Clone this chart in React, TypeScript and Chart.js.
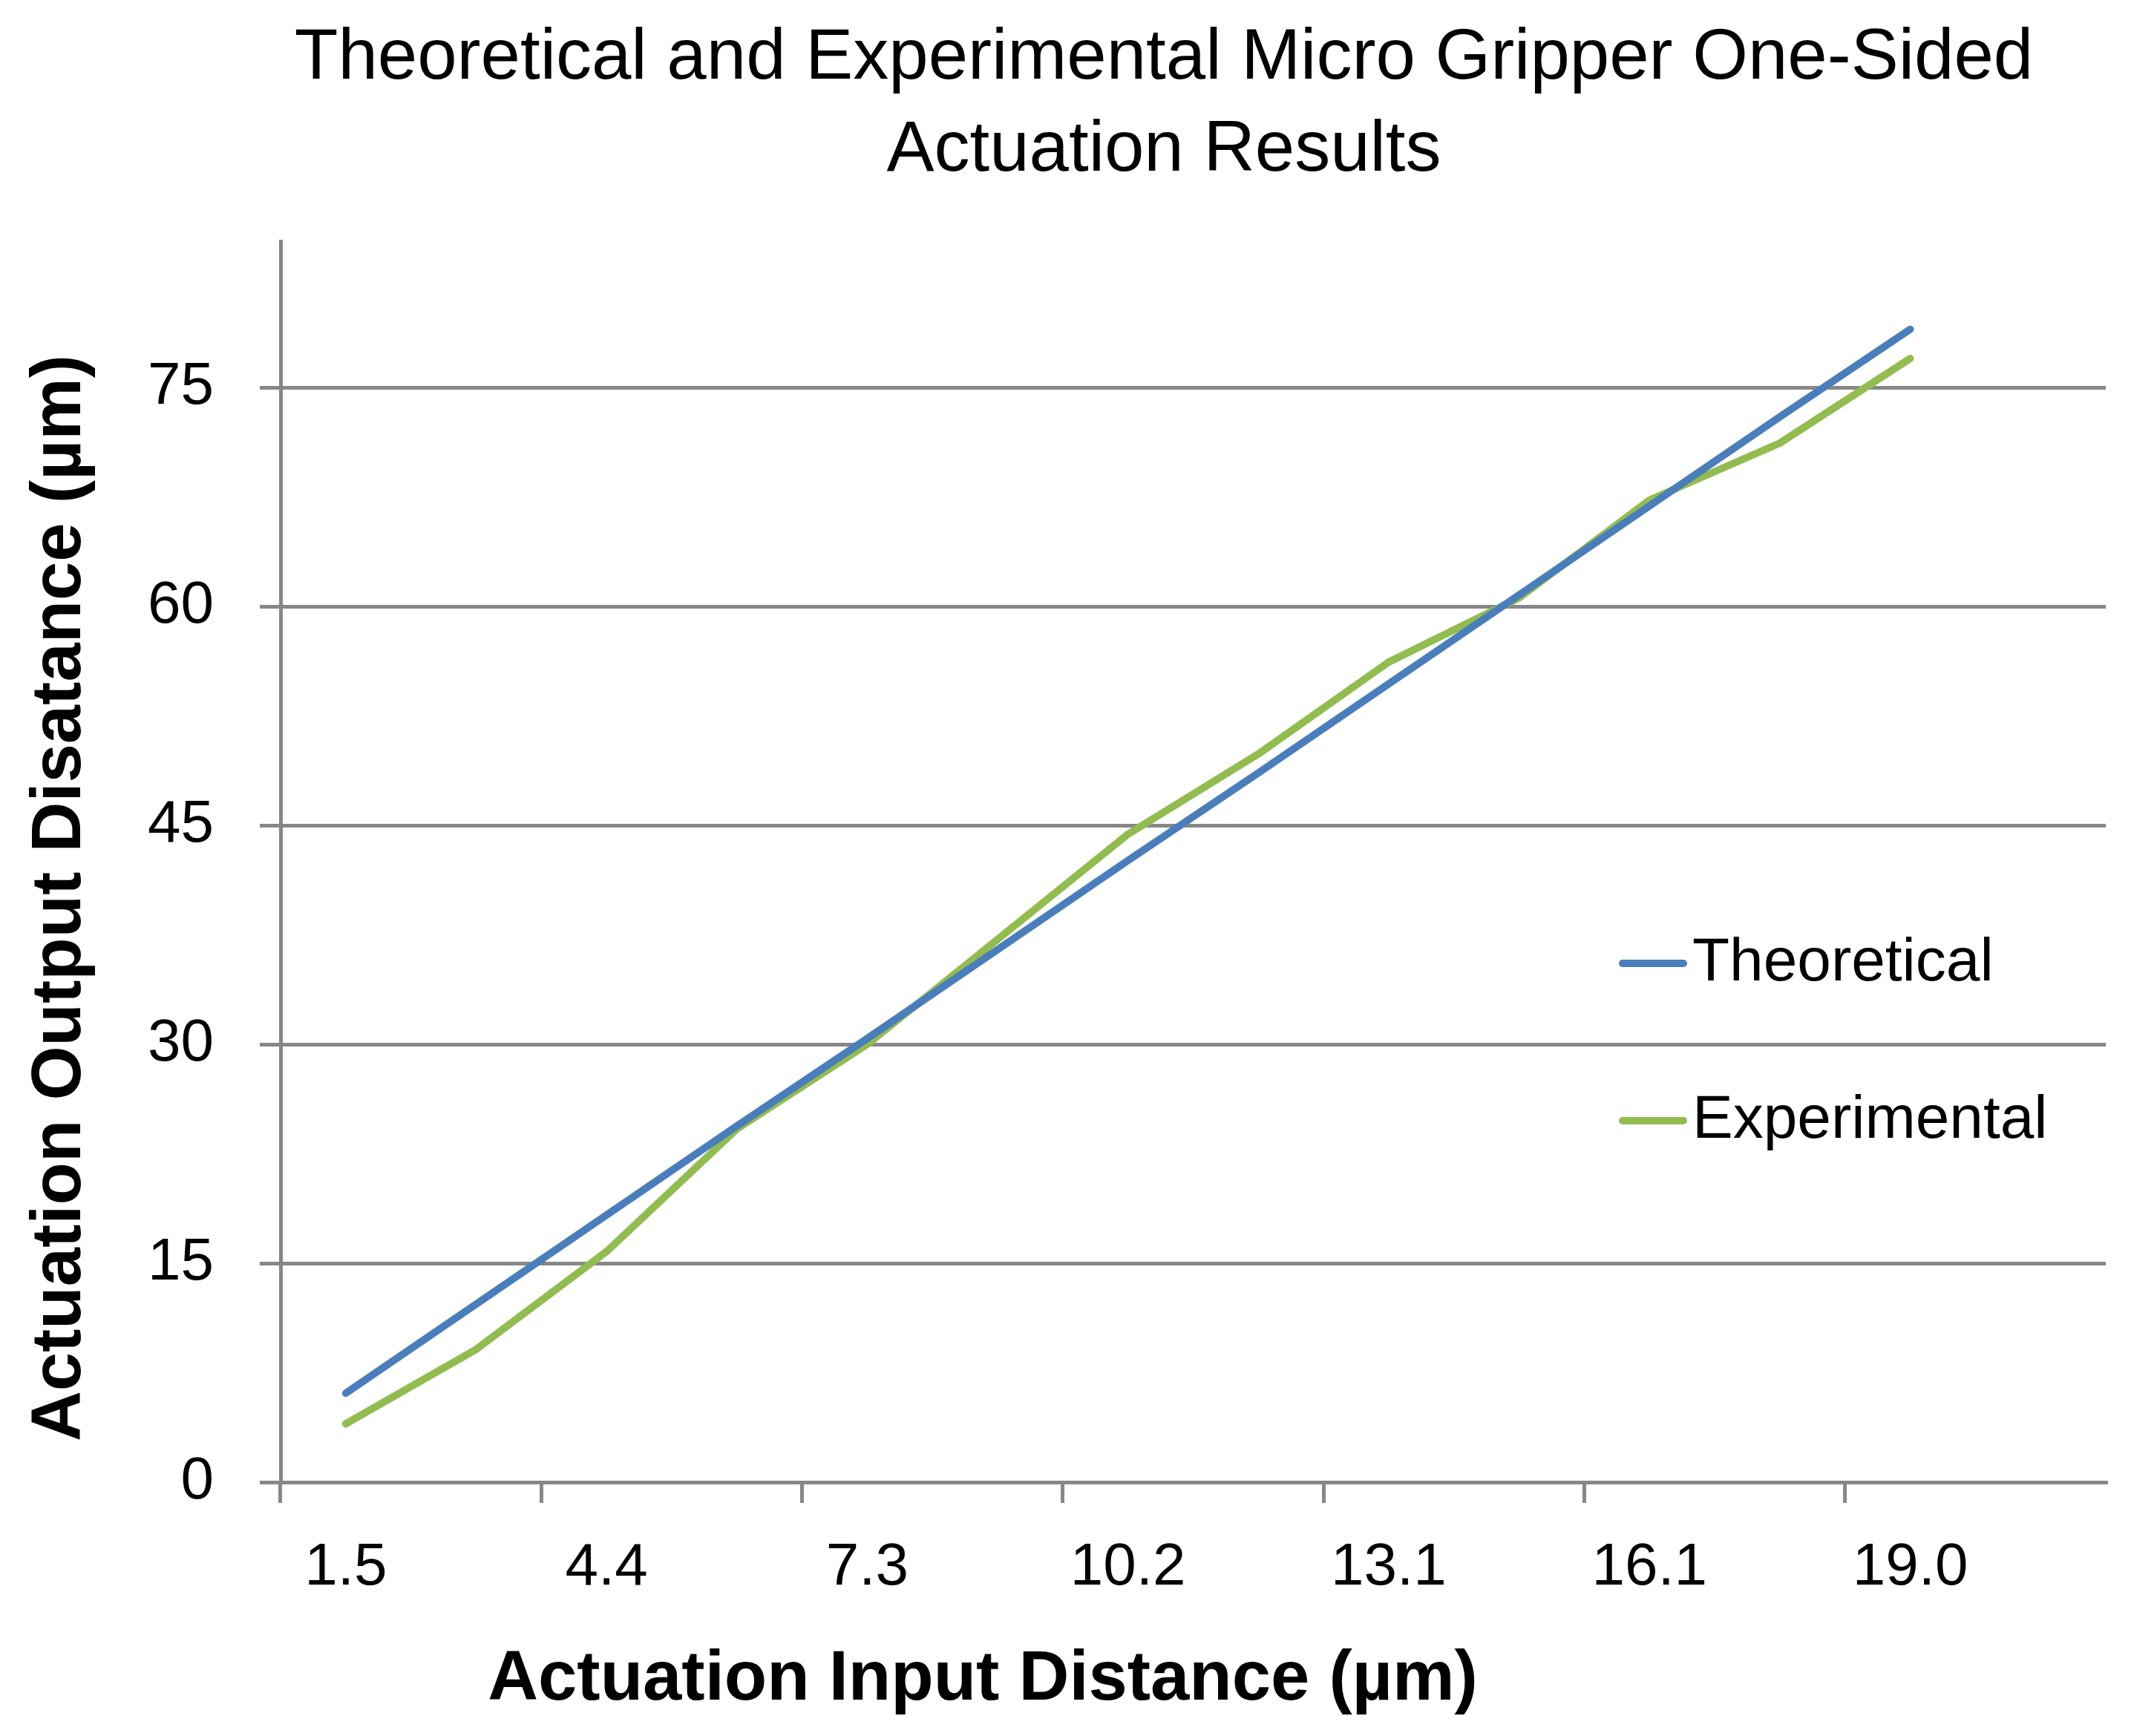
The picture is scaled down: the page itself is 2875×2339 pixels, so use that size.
import React, { useEffect, useRef } from 'react';
import { Chart, registerables } from 'chart.js';

Chart.register(...registerables);

const TITLE_LINES = ['Theoretical and Experimental Micro Gripper One-Sided', 'Actuation Results'];
const X_TITLE = 'Actuation Input Distance (µm)';
const Y_TITLE = 'Actuation Output Disatance (µm)';
const CATEGORIES = ['1.5', '2.9', '4.4', '5.8', '7.3', '8.7', '10.2', '11.7', '13.1', '14.6', '16.1', '17.5', '19.0', '20.4'];
const THEORETICAL = [6.1, 12.2, 18.3, 24.4, 30.4, 36.5, 42.6, 48.6, 54.7, 60.8, 66.9, 73.0, 79.0, null];
const EXPERIMENTAL = [4.0, 9.1, 15.8, 24.2, 30.0, 37.2, 44.4, 49.9, 56.2, 60.6, 67.3, 71.2, 77.0, null];
const SERIES_NAMES = ['Theoretical', 'Experimental'];
const Y_TICKS = [0, 15, 30, 45, 60, 75];
const Y_MIN = 0;
const Y_MAX = 85;

const W = 2875;
const H = 2339;
const FONT = '"Liberation Sans", Arial, sans-serif';
const GRID = '#878787';
const BLUE = '#4a7ebb';
const GREEN = '#92bc50';

const overlayPlugin = {
  id: 'overlay',
  afterDraw(chart: any, _args: any, opts: any) {
    const ctx = chart.ctx;
    ctx.save();
    ctx.fillStyle = '#000';
    ctx.textAlign = 'center';
    ctx.textBaseline = 'middle';
    ctx.font = `bold ${opts.axisFontSize}px ${FONT}`;
    ctx.fillText(opts.xTitle, opts.xTitleX, opts.xTitleY);
    ctx.save();
    ctx.translate(opts.yTitleX, opts.yTitleY);
    ctx.rotate(-Math.PI / 2);
    ctx.fillText(opts.yTitle, 0, 0);
    ctx.restore();

    // legend
    ctx.font = `${opts.legendFontSize}px ${FONT}`;
    ctx.textAlign = 'left';
    chart.data.datasets.forEach((ds: any, i: number) => {
      const y = opts.legendY[i];
      ctx.strokeStyle = ds.borderColor;
      ctx.lineWidth = ds.borderWidth;
      ctx.lineCap = 'round';
      ctx.beginPath();
      ctx.moveTo(opts.legendX0, y);
      ctx.lineTo(opts.legendX1, y);
      ctx.stroke();
      ctx.fillStyle = '#000';
      ctx.fillText(ds.label, opts.legendTextX, y);
    });
    ctx.restore();
  },
};

export default function App() {
  const ref = useRef<HTMLCanvasElement | null>(null);

  useEffect(() => {
    if (!ref.current) return;
    const chart = new Chart(ref.current, {
      type: 'line',
      data: {
        labels: CATEGORIES,
        datasets: [
          {
            label: SERIES_NAMES[0],
            data: THEORETICAL,
            borderColor: BLUE,
            backgroundColor: BLUE,
            borderWidth: 10,
            pointRadius: 0,
            tension: 0,
            borderCapStyle: 'round',
            borderJoinStyle: 'round',
          },
          {
            label: SERIES_NAMES[1],
            data: EXPERIMENTAL,
            borderColor: GREEN,
            backgroundColor: GREEN,
            borderWidth: 10,
            pointRadius: 0,
            tension: 0,
            borderCapStyle: 'round',
            borderJoinStyle: 'round',
          },
        ],
      },
      options: {
        animation: false,
        responsive: false,
        devicePixelRatio: 1,
        layout: { padding: { left: 299, right: 38, top: 0, bottom: 0 } },
        plugins: {
          legend: { display: false },
          tooltip: { enabled: false },
          title: {
            display: true,
            text: TITLE_LINES,
            color: '#000',
            font: { family: FONT, size: 96, weight: 'normal', lineHeight: 1.29 },
            padding: { top: 18, bottom: 60 },
          },
          overlay: {
            xTitle: X_TITLE,
            yTitle: Y_TITLE,
            axisFontSize: 94,
            xTitleX: 1324,
            xTitleY: 2264,
            yTitleX: 82,
            yTitleY: 1210,
            legendFontSize: 82,
            legendX0: 2186,
            legendX1: 2268,
            legendTextX: 2280,
            legendY: [1298, 1510],
          },
        } as any,
        scales: {
          x: {
            type: 'category',
            offset: true,
            afterFit: (s: any) => { s.height = 342; },
            grid: {
              display: true,
              offset: true,
              drawOnChartArea: false,
              drawTicks: true,
              tickLength: 28,
              lineWidth: 5,
              color: (c: any) => (c.index % 2 === 0 ? GRID : 'rgba(0,0,0,0)'),
            },
            border: { display: true, color: GRID, width: 5 },
            ticks: {
              autoSkip: false,
              maxRotation: 0,
              minRotation: 0,
              padding: 40,
              color: '#000',
              font: { family: FONT, size: 80 },
              callback: (_v: any, i: number) => (i % 2 === 0 ? CATEGORIES[i] : ''),
            },
          },
          y: {
            type: 'linear',
            min: Y_MIN,
            max: Y_MAX,
            afterFit: (s: any) => {
              s.width = 79;
              // let the tick labels draw left of the narrow scale box
              s._computeLabelArea = () => undefined;
            },
            afterBuildTicks: (s: any) => { s.ticks = Y_TICKS.map((v) => ({ value: v })); },
            grid: {
              display: true,
              drawOnChartArea: true,
              drawTicks: true,
              tickLength: 28,
              lineWidth: 5,
              color: GRID,
            },
            border: { display: true, color: GRID, width: 5 },
            ticks: {
              autoSkip: false,
              padding: 62,
              color: '#000',
              font: { family: FONT, size: 80 },
              callback: (v: any) => String(v),
            },
          },
        },
      },
      plugins: [overlayPlugin],
    });
    return () => chart.destroy();
  }, []);

  return (
    <div style={{ position: 'absolute', left: 0, top: 0, width: W, height: H, background: '#fff' }}>
      <canvas ref={ref} width={W} height={H} style={{ display: 'block', width: W, height: H }} />
    </div>
  );
}
